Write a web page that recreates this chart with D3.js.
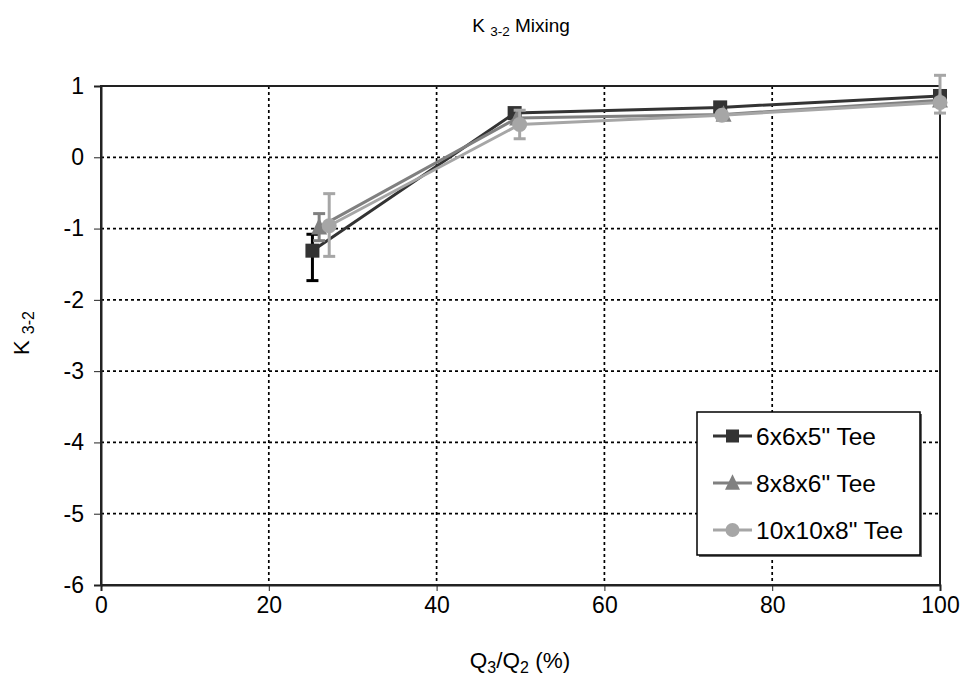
<!DOCTYPE html>
<html>
<head>
<meta charset="utf-8">
<script src="https://cdn.jsdelivr.net/npm/d3@7"></script>
<style>
  body { margin: 0; background: #fff; }
  svg { font-family: "Liberation Sans", Arial, sans-serif; }
</style>
</head>
<body>
<svg id="chart" width="965" height="677"></svg>
<script>
// values
const seriesNames = ['6x6x5" Tee', '8x8x6" Tee', '10x10x8" Tee'];
const seriesColors = ["#333333", "#808080", "#a6a6a6"];
const seriesShapes = ["square", "triangle", "circle"];

const x6 = [25.2, 49.3, 73.8, 100];
const y6 = [-1.31, 0.62, 0.70, 0.86];
const errUp6 = [0.23, 0, 0, 0];
const errDn6 = [0.42, 0, 0, 0];

const x8 = [26.0, 49.6, 74.2, 100];
const y8 = [-0.98, 0.55, 0.60, 0.80];
const errUp8 = [0.19, 0, 0, 0];
const errDn8 = [0.19, 0, 0, 0];

const x10 = [27.2, 49.9, 74.0, 100];
const y10 = [-0.96, 0.46, 0.59, 0.77];
const errUp10 = [0.45, 0.2, 0, 0.38];
const errDn10 = [0.43, 0.2, 0, 0.15];

const xTicks = [0, 20, 40, 60, 80, 100];
const yTicks = [1, 0, -1, -2, -3, -4, -5, -6];

const allX = [x6, x8, x10], allY = [y6, y8, y10];
const allUp = [errUp6, errUp8, errUp10], allDn = [errDn6, errDn8, errDn10];

const svg = d3.select("#chart");
const plotL = 101, plotR = 940, plotT = 86, plotB = 585;

const x = d3.scaleLinear().domain([0, 100]).range([plotL, plotR]);
const y = d3.scaleLinear().domain([-6, 1]).range([plotB, plotT]);

// grid
const grid = svg.append("g");
yTicks.forEach(t => {
  grid.append("line")
    .attr("x1", plotL).attr("x2", plotR)
    .attr("y1", y(t)).attr("y2", y(t))
    .attr("stroke", "#000").attr("stroke-width", 1.7)
    .attr("stroke-dasharray", "3,3");
});
xTicks.forEach(t => {
  grid.append("line")
    .attr("x1", x(t)).attr("x2", x(t))
    .attr("y1", plotT).attr("y2", plotB)
    .attr("stroke", "#000").attr("stroke-width", 1.7)
    .attr("stroke-dasharray", "3,3");
});

// plot border
svg.append("rect")
  .attr("x", plotL).attr("y", plotT)
  .attr("width", plotR - plotL).attr("height", plotB - plotT)
  .attr("fill", "none").attr("stroke", "#222").attr("stroke-width", 2);

// axes
const fmt = d => String(d);
const xAxis = svg.append("g")
  .attr("transform", `translate(0,${plotB})`)
  .call(d3.axisBottom(x).tickValues(xTicks).tickFormat(fmt).tickSize(6).tickPadding(6));
const yAxis = svg.append("g")
  .attr("transform", `translate(${plotL},0)`)
  .call(d3.axisLeft(y).tickValues(yTicks).tickFormat(fmt).tickSize(7).tickPadding(10));
[xAxis, yAxis].forEach(a => {
  a.select(".domain").attr("stroke", "#222").attr("stroke-width", 2);
  a.selectAll(".tick line").attr("stroke", "#222");
  a.selectAll("text").attr("font-size", "23px").attr("fill", "#000")
    .attr("font-family", "Liberation Sans, Arial, sans-serif");
});

function drawMarker(g, shape, cx, cy, color, s) {
  if (shape === "square") {
    g.append("rect").attr("x", cx - s / 2).attr("y", cy - s / 2)
      .attr("width", s).attr("height", s).attr("fill", color);
  } else if (shape === "triangle") {
    const h = s * 1.05;
    g.append("path")
      .attr("d", `M${cx},${cy - h / 2 - 2} L${cx + s / 2 + 1},${cy + h / 2} L${cx - s / 2 - 1},${cy + h / 2} Z`)
      .attr("fill", color);
  } else {
    g.append("circle").attr("cx", cx).attr("cy", cy).attr("r", s / 2 + 0.5).attr("fill", color);
  }
}

// series
const line = d3.line();
allX.forEach((xs, i) => {
  const g = svg.append("g");
  const pts = xs.map((v, k) => [x(v), y(allY[i][k])]);
  g.append("path").attr("d", line(pts))
    .attr("fill", "none").attr("stroke", seriesColors[i]).attr("stroke-width", 3);
  xs.forEach((v, k) => {
    const up = allUp[i][k], dn = allDn[i][k];
    if (up > 0 || dn > 0) {
      const cx = x(v), y1 = y(allY[i][k] + up), y2 = y(allY[i][k] - dn);
      const col = i === 0 ? "#000" : seriesColors[i];
      g.append("line").attr("x1", cx).attr("x2", cx).attr("y1", y1).attr("y2", y2)
        .attr("stroke", col).attr("stroke-width", 3);
      [y1, y2].forEach(yy => g.append("line")
        .attr("x1", cx - 6).attr("x2", cx + 6).attr("y1", yy).attr("y2", yy)
        .attr("stroke", col).attr("stroke-width", 3));
    }
  });
  xs.forEach((v, k) => drawMarker(g, seriesShapes[i], x(v), y(allY[i][k]), seriesColors[i], 14));
});

// legend
const lg = svg.append("g").attr("transform", "translate(697,412)");
lg.append("rect").attr("x", 2).attr("y", 2).attr("width", 223).attr("height", 143).attr("fill", "#666");
lg.append("rect").attr("width", 223).attr("height", 143).attr("fill", "#fff")
  .attr("stroke", "#000").attr("stroke-width", 1.5);
seriesNames.forEach((name, i) => {
  const cy = 24 + i * 47;
  lg.append("line").attr("x1", 16).attr("x2", 55).attr("y1", cy).attr("y2", cy)
    .attr("stroke", seriesColors[i]).attr("stroke-width", 3);
  drawMarker(lg, seriesShapes[i], 35.5, cy, seriesColors[i], 13);
  lg.append("text").attr("x", 59).attr("y", cy + 8.5).attr("font-size", "24.5px").text(name);
});

// titles
const title = svg.append("text").attr("x", 521).attr("y", 32)
  .attr("text-anchor", "middle").attr("font-size", "19px");
title.append("tspan").text("K ");
title.append("tspan").attr("font-size", "13.5px").attr("dy", 4).text("3-2");
title.append("tspan").attr("dy", -4).text(" Mixing");

const xl = svg.append("text").attr("x", 520).attr("y", 668)
  .attr("text-anchor", "middle").attr("font-size", "22.5px");
xl.append("tspan").text("Q");
xl.append("tspan").attr("font-size", "16px").attr("dy", 5).text("3");
xl.append("tspan").attr("dy", -5).text("/Q");
xl.append("tspan").attr("font-size", "16px").attr("dy", 5).text("2");
xl.append("tspan").attr("dy", -5).text(" (%)");

const yl = svg.append("text").attr("transform", "translate(29,333) rotate(-90)")
  .attr("text-anchor", "middle").attr("font-size", "22px");
yl.append("tspan").text("K ");
yl.append("tspan").attr("font-size", "16px").attr("dy", 5).text("3-2");
</script>
</body>
</html>
